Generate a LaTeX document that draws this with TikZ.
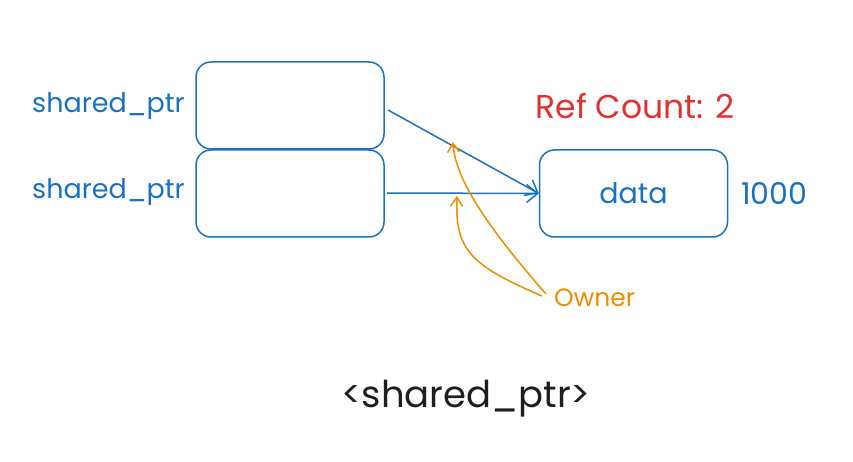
\documentclass[tikz,border=0pt]{standalone}
\usepackage{fontspec}
\setmainfont{Poppins}
\usetikzlibrary{arrows.meta}
\definecolor{eblue}{HTML}{1971C2}
\definecolor{ered}{HTML}{E03131}
\definecolor{eorange}{HTML}{F08C00}
\definecolor{eblack}{HTML}{1E1E1E}
\tikzset{
  box/.style={draw=eblue, line width=1.5pt, rounded corners=15pt, minimum width=188pt, minimum height=87pt, inner sep=0pt},
  lbl/.style={text=eblue, inner sep=0pt},
  conn/.style={draw=eblue, line width=1.5pt, -{Straight Barb[length=11pt,width=18pt,line width=1.5pt]}},
  own/.style={draw=eorange, line width=1.5pt, -{Straight Barb[length=9pt,width=12pt,line width=1.5pt]}},
}
\begin{document}
\begin{tikzpicture}[x=1pt,y=-1pt]
\useasboundingbox (0,0) rectangle (853,462);
\node[box] (p1) at (290,105.5) {};
\node[box] (p2) at (290,193.5) {};
\node[box] (d) at (633.5,193.5) {};
\node[lbl, font=\fontsize{28.5}{32}\selectfont] (dt) at (633.5,193) {data};
\node[lbl, anchor=west, font=\fontsize{30}{34}\selectfont] (n) at (741,193) {1000};
\node[lbl, anchor=east, font=\fontsize{27}{31}\selectfont] (l1) at (185,106) {shared\_ptr};
\node[lbl, anchor=east, font=\fontsize{27}{31}\selectfont] (l2) at (185,192) {shared\_ptr};
\node[text=ered, font=\fontsize{33}{37}\selectfont, inner sep=0pt] (rc) at (635,106) {Ref Count: 2};
\node[text=eorange, font=\fontsize{25}{29}\selectfont, inner sep=0pt, anchor=west] (ow) at (554,298) {Owner};
\node[text=eblack, font=\fontsize{37}{41}\selectfont, inner sep=0pt] (t) at (466,399) {<shared\_ptr>};
\coordinate (a1) at (388,110);
\coordinate (a2) at (387,193);
\coordinate (o1) at (546,294);
\coordinate (o2) at (542,296);
\coordinate (h1) at (453,142);
\coordinate (h2) at (457,196);
\draw[conn] (a1) -- (d.west);
\draw[conn] (a2) -- (d.west);
\draw[own] (o1) .. controls (490,230) and (455,180) .. (h1);
\draw[own] (o2) .. controls (470,265) and (455,250) .. (h2);
\end{tikzpicture}
\end{document}
